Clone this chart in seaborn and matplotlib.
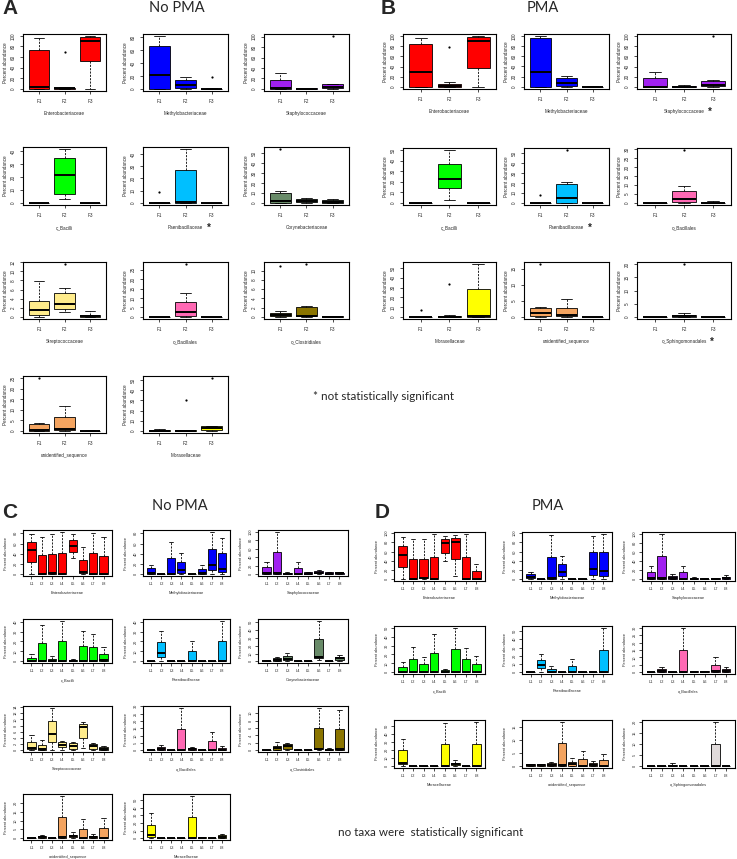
import matplotlib
matplotlib.use("Agg")
import matplotlib.pyplot as plt
import numpy as np
import pandas as pd
import seaborn as sns

W, H = 737, 859

F_GROUPS = ["F1", "F2", "F3"]
L_GROUPS = ["L1", "L2", "L3", "L4", "L5", "L6", "L7", "L8"]

# each box: [low whisker, q1, median, q3, high whisker]; fliers: (group index, value)

# ---- A: No PMA, by F
A_TAXA = ["Enterobacteriaceae", "Methylobacteriaceae", "Staphylococcaceae",
          "c_Bacilli", "Paenibacillaceae", "Corynebacteriaceae",
          "Streptococcaceae", "o_Bacillales", "o_Clostridiales",
          "unidentified_sequence", "Moraxellaceae"]
A_COLORS = ["#FF0000", "#0000FF", "#A020F0", "#00FF00", "#00BFFF", "#698B69",
            "#FFEC8B", "#FF69B4", "#8B7500", "#F4A460", "#FFFF00"]
A_BOXES = [
    [[0, 0, 3.5, 74, 95], [0, 0, 1, 2, 3], [0, 52, 91, 98, 99.5]],
    [[0, 0, 22, 67, 82], [0, 1, 6, 14.5, 18], [0, 0, 0, 0.5, 1]],
    [[0, 0, 2.5, 17, 29.5], [0, 0, 0.5, 1, 2], [0, 1, 4, 8.5, 9.8]],
    [[0, 0, 0, 0, 0], [3, 7, 21.5, 34.5, 41.5], [0, 0, 0, 0, 0]],
    [[0, 0, 0, 0, 0.3], [0, 0, 1, 27, 44], [0, 0, 0, 0, 0]],
    [[0, 0, 1.5, 10, 11.5], [0, 0.5, 2, 4, 5], [0, 0, 1, 2.5, 4]],
    [[0, 0.4, 1.6, 3.6, 7.8], [1.1, 1.8, 2.9, 5.2, 6.4], [0, 0, 0.1, 0.5, 1.3]],
    [[0, 0, 0, 0, 0], [0, 0.3, 2.4, 7.9, 12.6], [0, 0, 0, 0, 0]],
    [[0, 0.1, 0.4, 0.9, 1.2], [0, 0.1, 0.3, 2.1, 2.3], [0, 0, 0, 0.1, 0.2]],
    [[0, 0, 0.5, 3.4, 3.6], [0, 0.2, 1, 6.5, 12], [0, 0, 0, 0, 0.3]],
    [[0, 0, 0.3, 0.7, 1.5], [0, 0, 0.3, 0.6, 1], [0, 1, 2.5, 4.5, 5]],
]
A_FLIERS = [[(1, 69)], [(2, 18)], [(2, 101)], [], [(0, 8.5)], [(0, 54)],
            [(1, 11.6)], [(1, 28)], [(0, 11), (1, 11.4)], [(0, 25)],
            [(1, 30), (2, 52)]]
A_STEPS = [20, 20, 20, 10, 10, 10, 2, 5, 2, 5, 10]
A_STARRED = ["Paenibacillaceae"]

# ---- B: PMA, by F
B_TAXA = ["Enterobacteriaceae", "Methylobacteriaceae", "Staphylococcaceae",
          "c_Bacilli", "Paenibacillaceae", "o_Bacillales",
          "Moraxellaceae", "unidentified_sequence", "o_Sphingomonadales"]
B_COLORS = ["#FF0000", "#0000FF", "#A020F0", "#00FF00", "#00BFFF", "#FF69B4",
            "#FFFF00", "#F4A460", "#FFFFFF"]
B_BOXES = [
    [[0, 0, 29, 84, 96], [0, 0, 1.5, 6, 9.5], [0, 37, 91, 99, 100]],
    [[0, 0, 30, 95, 99.5], [0, 1, 8, 17, 21.5], [0, 0, 0, 0.5, 1.8]],
    [[0, 0, 0.5, 17, 30], [0, 0, 0.5, 1, 3], [0, 1, 3.6, 11, 13]],
    [[0, 0, 0, 0, 0], [3, 14.5, 23, 36.5, 50], [0, 0, 0, 0, 0]],
    [[0, 0, 0, 0, 0.3], [0, 0.3, 4.5, 18.5, 21], [0, 0, 0, 0, 0]],
    [[0, 0, 0, 0, 0], [0, 0.5, 2, 6.5, 9.5], [0, 0, 0, 0.2, 1]],
    [[0, 0, 0, 0, 0.3], [0, 0, 0.3, 0.8, 1.5], [0, 0.3, 0.7, 29, 54]],
    [[0, 0.2, 1.1, 2.7, 3.2], [0, 0.2, 0.5, 2.8, 5.7], [0, 0, 0, 0, 0.1]],
    [[0, 0, 0, 0, 0], [0, 0, 0.3, 0.9, 1.5], [0, 0, 0, 0, 0]],
]
B_FLIERS = [[(1, 79)], [], [(2, 100)], [], [(0, 8), (1, 53)], [(1, 29.5)],
            [(0, 7.3), (1, 34)], [(0, 16.5)], [(1, 20)]]
B_STEPS = [20, 20, 20, 10, 10, 5, 10, 5, 5]
B_STARRED = ["Staphylococcaceae", "Paenibacillaceae", "o_Sphingomonadales"]

# ---- C: No PMA, by L
C_TAXA = A_TAXA
C_COLORS = A_COLORS
C_BOXES = [
    [[0, 23, 48, 63, 78], [0, 0, 1, 37, 73], [0, 0, 2, 39, 78], [0, 0, 0.5, 41, 83],
     [31, 44, 56, 66, 78], [1, 2.5, 4, 28, 53.5], [0, 0, 0.5, 40.6, 80.6], [0, 0, 0.5, 36, 73]],
    [[0, 0.5, 2.6, 11.6, 18], [0, 0, 0, 0.3, 0.5], [0, 0, 1, 31.6, 63], [0, 2.6, 8.4, 24, 40.6],
     [0, 0, 0, 0.2, 0.4], [0, 0, 2.6, 10, 18], [0, 9, 18.7, 50, 83], [0, 4, 11, 41, 71]],
    [[0, 0, 2.4, 16, 29], [0, 0, 3, 51.6, 100], [0, 0, 1, 3.5, 4.8], [0, 0, 1, 15, 29],
     [0, 0, 1.6, 4.8, 6], [0, 2, 3, 7, 9], [0, 0, 1.5, 5, 5.6], [0, 1, 2, 4, 4.8]],
    [[0, 0, 0.5, 3.6, 7], [0, 0, 0.5, 18, 37], [0, 0, 0.5, 2.6, 5.5], [0, 0, 0.5, 21, 41],
     [0, 0, 0.3, 1.3, 2.6], [0, 0, 0.5, 15, 31], [0, 0, 0.5, 14, 28], [0, 0, 1.5, 7, 14]],
    [[0, 0, 0, 0, 0.2], [0, 4, 8.2, 19.3, 30.5], [0, 0, 0, 0.5, 1], [0, 0, 0, 0, 0.2],
     [0, 0, 0.3, 10, 20], [0, 0, 0, 0, 0.2], [0, 0, 0, 0, 0.2], [0, 0, 0, 21, 41]],
    [[0, 0, 0.5, 1, 1.5], [0, 0.5, 1.6, 3.7, 5.4], [0, 1.6, 3.3, 7, 10.7], [0, 0, 0, 0.3, 0.5],
     [0, 0, 0.3, 0.5, 0.8], [2, 4.1, 5, 28, 52], [0, 0, 0.3, 0.6, 1], [0, 2, 3.7, 6.2, 8.7]],
    [[0, 0.5, 0.8, 2.7, 4.9], [0, 0, 0.3, 1.8, 3.3], [0, 2.6, 5.4, 9.5, 13.8], [0, 1.1, 1.8, 2.7, 2.9],
     [0.2, 0.4, 1.4, 2.4, 2.8], [0.9, 4.1, 7.7, 8.6, 9.1], [0, 0.5, 1.3, 1.9, 2.5], [0, 0.2, 0.5, 1.1, 1.3]],
    [[0, 0, 0, 0, 0.2], [0, 0.3, 0.9, 2, 3.6], [0, 0, 0, 0, 0.2], [0, 0, 0.3, 14.3, 29],
     [0, 0.3, 0.7, 1.6, 2.3], [0, 0, 0.2, 0.5, 0.9], [0, 0, 0.3, 6.4, 12.5], [0, 0.2, 0.5, 1.6, 3]],
    [[0, 0, 0, 0.1, 0.2], [0, 0.2, 0.5, 1.2, 2.2], [0, 0.45, 1.1, 1.7, 1.9], [0, 0, 0.1, 0.2, 0.4],
     [0, 0, 0, 0.1, 0.2], [0, 0.3, 0.45, 5.9, 11.5], [0, 0, 0.1, 0.3, 0.5], [0, 0.1, 0.3, 5.7, 10.9]],
    [[0, 0, 0, 0.1, 0.3], [0, 0.3, 0.8, 1.3, 1.9], [0, 0, 0, 0.1, 0.2], [0, 0.4, 0.6, 12.1, 24],
     [0, 0.6, 1.2, 1.9, 3.5], [0, 0, 0.2, 5.4, 10.6], [0, 0.3, 0.8, 1.5, 2.7], [0, 0, 0.2, 5.8, 11.7]],
    [[0, 1.8, 4, 16.9, 32.4], [0, 0, 0, 0.2, 0.5], [0, 0, 0, 0.2, 0.4], [0, 0, 0, 0.2, 0.4],
     [0, 0, 0.5, 28, 55.5], [0, 0.5, 1, 1.3, 1.8], [0, 0, 0, 0.2, 0.4], [0, 0.5, 1.8, 4, 5.8]],
]
C_STEPS = [20, 20, 20, 10, 10, 10, 2, 5, 2, 5, 10]

# ---- D: PMA, by L
D_TAXA = B_TAXA
D_COLORS = ["#FF0000", "#0000FF", "#A020F0", "#00FF00", "#00BFFF", "#FF69B4",
            "#FFFF00", "#F4A460", "#E0DADA"]
D_BOXES = [
    [[0, 26, 53, 72.6, 92.6], [0, 0, 0.5, 44, 87], [0, 1.5, 3, 44, 86.7], [0, 0, 0.5, 48, 98.5],
     [39, 57.8, 77.8, 86.7, 94], [7.4, 44.4, 80, 89, 97], [0, 0, 0.5, 48, 98.5], [0, 0, 0.5, 17, 33]],
    [[0, 3, 5, 11, 15], [0, 0, 0, 0.3, 0.5], [0, 0, 1.5, 48, 96], [0, 6, 15, 33, 50],
     [0, 0, 0, 0.2, 0.3], [0, 0, 0, 0.2, 0.3], [0, 9.6, 22, 58, 94], [0, 7.4, 18.5, 58, 98.5]],
    [[0, 0, 2, 15, 30], [0, 0, 2, 51, 100], [0, 0, 3, 7, 11], [0, 0, 1, 15, 30],
     [0, 0, 0.5, 2, 5], [0, 0, 0.5, 1.5, 3], [0, 0, 0.5, 2, 3], [0, 1, 3, 5, 9]],
    [[0, 0, 0.3, 6, 11.6], [0, 0, 0.5, 15, 28.7], [0, 0, 0.5, 9, 17], [0, 0, 0.5, 21.6, 43],
     [0, 0, 0.5, 2.6, 3.4], [0, 0, 0.5, 25.7, 50], [0, 0, 0.5, 14.5, 27], [0, 0, 0.5, 9, 18]],
    [[0, 0, 0, 0, 0.2], [0, 4.8, 8.8, 14.4, 21.6], [0, 0, 0.5, 4.4, 8], [0, 0, 0, 0, 0.2],
     [0, 0, 0.3, 8, 16.4], [0, 0, 0, 0, 0.2], [0, 0, 0, 0, 0.2], [0, 0, 0.3, 27, 54]],
    [[0, 0, 0, 0.1, 0.3], [0, 0.2, 1.1, 2.2, 3.8], [0, 0, 0, 0.1, 0.2], [0, 0, 0.2, 15.3, 30],
     [0, 0, 0.3, 0.7, 1.1], [0, 0, 0.2, 0.5, 0.7], [0, 0, 0.6, 4.9, 10], [0, 0.3, 1.1, 2.2, 3.6]],
    [[0, 2.4, 4.5, 20, 34.3], [0, 0, 0, 0.2, 0.5], [0, 0, 0, 0.1, 0.2], [0, 0, 0, 0.1, 0.2],
     [0, 0, 0.8, 28, 54], [0, 1.2, 2.9, 4.5, 7.8], [0, 0, 0, 0.2, 0.4], [0, 0, 0.3, 28, 55]],
    [[0, 0.25, 0.5, 0.76, 0.9], [0, 0.2, 0.5, 0.8, 1], [0, 0.25, 0.6, 1.1, 1.5], [0, 0.25, 0.5, 8.7, 17],
     [0, 0.1, 0.9, 1.6, 3.3], [0, 0, 0.25, 2.9, 5.8], [0, 0, 0.6, 1.1, 2], [0, 0, 0.1, 2.4, 4.7]],
    [[0, 0, 0, 0, 0.1], [0, 0, 0, 0, 0.1], [0, 0, 0.1, 0.6, 1.5], [0, 0, 0, 0, 0.1],
     [0, 0, 0, 0, 0.1], [0, 0, 0, 0, 0.1], [0, 0, 0, 10, 20], [0, 0, 0, 0, 0.1]],
]
D_STEPS = [20, 20, 20, 10, 10, 5, 10, 5, 5]

# panel frames in pixels: columns (left, right), rows (top, bottom)
A_COLS = [(23, 106), (143, 228), (264, 349)]
A_ROWS = [(34, 91), (147, 205), (262, 319), (376, 433)]
B_COLS = [(403, 496), (524, 609), (637, 731)]
B_ROWS = [(34, 89), (148, 205), (262, 319)]
C_COLS = [(23, 112), (143, 230), (258, 348)]
C_ROWS = [(530, 576), (619, 663), (706, 752), (794, 840)]
D_COLS = [(394, 485), (522, 612), (642, 735)]
D_ROWS = [(532, 581), (626, 674), (720, 768)]

sns.set_theme(style="ticks")
plt.rcParams["font.family"] = ["Liberation Sans", "DejaVu Sans"]

fig = plt.figure(figsize=(W / 100, H / 100), dpi=100)


def draw_panel(rect, taxon, color, boxes, fliers, step, groups, fs, pads, star):
    (left, right), (top, bottom) = rect
    ax = fig.add_axes([left / W, 1 - bottom / H, (right - left) / W, (bottom - top) / H])
    df = pd.DataFrame([(g, v) for g, five in zip(groups, boxes) for v in five],
                      columns=["group", "value"])
    sns.boxplot(data=df, x="group", y="value", order=groups, color=color,
                saturation=1, whis=(0, 100), width=0.8, linecolor="black",
                linewidth=0.6, fliersize=0, medianprops={"linewidth": 1.4},
                whiskerprops={"linestyle": (0, (2.5, 1.5))}, ax=ax)
    if fliers:
        sns.stripplot(x=[groups[i] for i, _ in fliers], y=[v for _, v in fliers],
                      order=groups, jitter=False, color="black", size=1.6, ax=ax)
    vmax = max([b[-1] for b in boxes] + [v for _, v in fliers])
    n = len(groups)
    ax.set_xlim(-0.5 - 0.04 * n, n - 0.5 + 0.04 * n)
    ax.set_ylim(-0.04 * vmax, 1.04 * vmax)
    ticks = np.arange(0, 1.04 * vmax, step)
    ax.set_yticks(ticks)
    ax.set_yticklabels([f"{t:g}" for t in ticks], rotation=90, va="center")
    ax.tick_params(axis="both", length=2, width=0.5, labelsize=fs, color="black")
    ax.tick_params(axis="x", pad=pads[0])
    ax.tick_params(axis="y", pad=pads[1])
    ax.set_xlabel(taxon, fontsize=fs, labelpad=pads[2])
    ax.set_ylabel("Percent abundance", fontsize=fs, labelpad=pads[3])
    for sp in ax.spines.values():
        sp.set_linewidth(0.8)
        sp.set_color("black")
    if star:
        ax.annotate("*", xy=(1, 0.5), xycoords=ax.xaxis.label, xytext=(2.5, 0),
                    textcoords="offset points", fontsize=7, fontweight="bold",
                    ha="left", va="center")


def draw_section(taxa, colors, boxes, fliers, steps, starred, groups, cols, rows, fs, pads):
    for k, taxon in enumerate(taxa):
        rect = (cols[k % 3], rows[k // 3])
        draw_panel(rect, taxon, colors[k], boxes[k], fliers[k] if fliers else [],
                   steps[k], groups, fs, pads, taxon in starred)


draw_section(A_TAXA, A_COLORS, A_BOXES, A_FLIERS, A_STEPS, A_STARRED, F_GROUPS,
             A_COLS, A_ROWS, 3.3, (4, 3.3, 5, 2.2))
draw_section(B_TAXA, B_COLORS, B_BOXES, B_FLIERS, B_STEPS, B_STARRED, F_GROUPS,
             B_COLS, B_ROWS, 3.3, (4, 3.3, 5, 2.2))
draw_section(C_TAXA, C_COLORS, C_BOXES, None, C_STEPS, [], L_GROUPS,
             C_COLS, C_ROWS, 2.8, (2.3, 2, 3.6, 3.6))
draw_section(D_TAXA, D_COLORS, D_BOXES, None, D_STEPS, [], L_GROUPS,
             D_COLS, D_ROWS, 2.8, (2.3, 2, 3.6, 3.6))


def ftext(x, y, s, **kw):
    fig.text(x / W, 1 - y / H, s, **kw)


letter = dict(fontsize=15, fontweight="bold", va="center", ha="left")
title = dict(fontsize=10.5, family=["Lato", "DejaVu Sans"], va="center", ha="center")
ftext(2, 8, "A", **letter)
ftext(381, 8, "B", **letter)
ftext(2, 512, "C", **letter)
ftext(375, 512, "D", **letter)
ftext(177, 8, "No PMA", **title)
ftext(543, 8, "PMA", **title)
ftext(180, 506, "No PMA", **title)
ftext(548, 506, "PMA", **title)
note = dict(fontsize=8.4, family=["Lato", "DejaVu Sans"], va="center", ha="left")
ftext(313, 396, "* not statistically significant", **note)
ftext(338, 833, "no taxa were  statistically significant", **note)

fig.savefig("out.png", dpi=100)
